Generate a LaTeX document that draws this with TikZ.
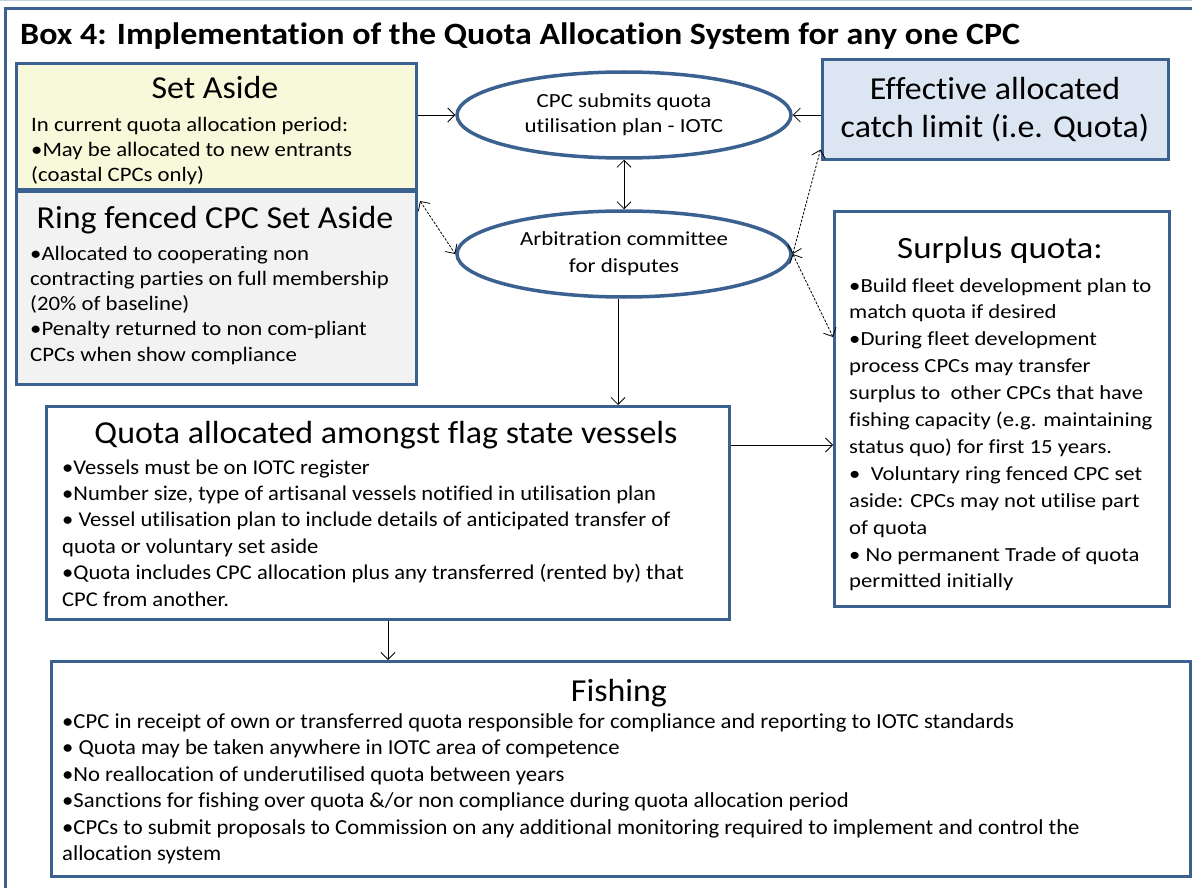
\documentclass[tikz,border=0pt]{standalone}
\usepackage{fontspec}
\setmainfont{Carlito}[Ligatures=NoCommon]
\newfontfamily\fT[FakeStretch=1.096,Ligatures=NoCommon]{Carlito}
\newfontfamily\fA[FakeStretch=1.06,Ligatures=NoCommon]{Carlito}
\newfontfamily\fB[FakeStretch=1.11,Ligatures=NoCommon]{Carlito}
\newfontfamily\fC[FakeStretch=1.135,Ligatures=NoCommon]{Carlito}
\newfontfamily\fD[FakeStretch=1.075,Ligatures=NoCommon]{Carlito}
\newfontfamily\fE[FakeStretch=1.147,Ligatures=NoCommon]{Carlito}
\newfontfamily\fF[FakeStretch=1.128,Ligatures=NoCommon]{Carlito}
\usetikzlibrary{arrows.meta,shapes.geometric,calc}
\definecolor{bordblue}{HTML}{3B6190}
\definecolor{yel}{HTML}{F8F9DA}
\definecolor{gry}{HTML}{F2F2F2}
\definecolor{lblue}{HTML}{DCE6F2}
\newcommand\fs[2]{\fontsize{#1}{#2}\selectfont}
\newcommand\textlines[6]{%
  \foreach \t [count=\i from 0] in {#6} {%
    \node[anchor=base west, inner sep=0pt, font=#5] (#1-\i) at (#2, #3+\i*#4) {\t};
  }%
}
\tikzset{
  box/.style={draw=bordblue, line width=3pt, anchor=north west, inner sep=0pt},
  ell/.style={ellipse, draw=bordblue, line width=3.5pt, fill=white, inner sep=0pt,
    minimum width=334pt, minimum height=86pt, align=center},
  arr/.style={-{Straight Barb[length=7pt,width=14pt]}, line width=0.8pt},
  darr/.style={{Straight Barb[length=7pt,width=14pt]}-{Straight Barb[length=7pt,width=14pt]}, line width=0.8pt},
  dsh/.style={darr, dash pattern=on 2.5pt off 1.5pt},
}
\begin{document}
\begin{tikzpicture}[x=1pt,y=-1pt]
\useasboundingbox (0,0) rectangle (1192,888);
% page decoration
\draw[line width=1pt, bordblue!30] (0,1) -- (1192,1);
\draw[line width=3pt, bordblue] (5,900) -- (5,9) -- (1200,9);
% title
\node[anchor=base west, inner sep=0pt, font=\fT\bfseries\fs{31}{36}] (title) at (20,45)
  {Box 4: Implementation of the Quota Allocation System for any one CPC};
% boxes
\node[box, fill=yel, minimum width=400pt, minimum height=126pt] (setaside) at (15,62) {};
\node[box, fill=gry, minimum width=400pt, minimum height=193pt] (ring) at (15,190) {};
\node[box, fill=lblue, minimum width=346pt, minimum height=100pt, anchor=center,
  align=center, font=\fA\fs{32}{38}] (eff) at (995,110) {Effective allocated\\catch limit (i.e. Quota)};
\node[box, fill=white, minimum width=335pt, minimum height=395pt] (surplus) at (833,210) {};
\node[box, fill=white, minimum width=683pt, minimum height=213pt] (quota) at (45,405) {};
\node[box, fill=white, minimum width=1139pt, minimum height=215pt] (fishing) at (50,660) {};
% ellipses
\node[ell, font=\fE\fs{20}{25}] (ell1) at (624,115) {CPC submits quota\\utilisation plan - IOTC};
\node[ell, font=\fE\fs{20}{27}] (ell2) at (624,254) {Arbitration committee\\for disputes};
% Set Aside text
\node[font=\fA\fs{32}{36}, inner sep=0pt, anchor=base] (satitle) at (215,99) {Set Aside};
\textlines{sa}{31}{132}{25}{\fB\fs{20.5}{25}}{In current quota allocation period:,
  •May be allocated to new entrants,(coastal CPCs only)}
% Ring fenced text
\node[font=\fA\fs{32}{36}, inner sep=0pt, anchor=base] (rtitle) at (215,229) {Ring fenced CPC Set Aside};
\textlines{rf}{30}{260}{25.3}{\fB\fs{20.5}{25}}{•Allocated to cooperating non,
  contracting parties on full membership,(20\% of baseline),
  •Penalty returned to non com-pliant,CPCs when show compliance}
% Surplus text
\node[font=\fF\fs{31}{36}, inner sep=0pt, anchor=base] (stitle) at (1000,258) {Surplus quota:};
\textlines{sq}{849}{292}{26.9}{\fC\fs{20}{25}}{•Build fleet development plan to,
  match quota if desired,•During fleet development,process CPCs may transfer,
  surplus to \ other CPCs that have,fishing capacity (e.g. maintaining,
  status quo) for first 15 years.,• \ Voluntary ring fenced CPC set,
  aside: CPCs may not utilise part,of quota,• No permanent Trade of quota,
  permitted initially}
% Quota allocated text
\node[font=\fA\fs{32}{36}, inner sep=0pt, anchor=base] (qtitle) at (386,443) {Quota allocated amongst flag state vessels};
\textlines{qa}{62}{474}{26.4}{\fD\fs{21}{25}}{•Vessels must be on IOTC register,
  {•Number size, type of artisanal vessels notified in utilisation plan},
  • Vessel utilisation plan to include details of anticipated transfer of,
  quota or voluntary set aside,
  •Quota includes CPC allocation plus any transferred (rented by) that,
  CPC from another.}
% Fishing text
\node[font=\fA\fs{32}{36}, inner sep=0pt, anchor=base] (ftitle) at (619,701) {Fishing};
\textlines{fi}{62}{728}{26.5}{\fA\fs{21.4}{25}}{%
  •CPC in receipt of own or transferred quota responsible for compliance and reporting to IOTC standards,
  • Quota may be taken anywhere in IOTC area of competence,
  •No reallocation of underutilised quota between years,
  •Sanctions for fishing over quota \&/or non compliance during quota allocation period,
  •CPCs to submit proposals to Commission on any additional monitoring required to implement and control the,
  allocation system}
% connectors
\draw[arr] (setaside.east |- ell1.west) -- (ell1.west);
\draw[arr] (eff.west |- ell1.east) -- (ell1.east);
\draw[darr] (ell1.south) -- (ell2.north);
\draw[dsh] ($(ring.north east)+(2,11)$) -- (ell2.west);
\draw[dsh] (ell2.east) -- ($(eff.south west)+(0,-12)$);
\draw[dsh] (ell2.east) -- ($(surplus.north west)+(0,127)$);
\coordinate (a2) at ($(ell2.south)+(-6,0)$);
\draw[arr] (a2) -- (a2 |- quota.north);
\coordinate (q1) at ($(quota.north east)+(0,40)$);
\draw[arr] (q1) -- (q1 -| surplus.west);
\draw[arr] (quota.south) -- (quota.south |- fishing.north);
\end{tikzpicture}
\end{document}
